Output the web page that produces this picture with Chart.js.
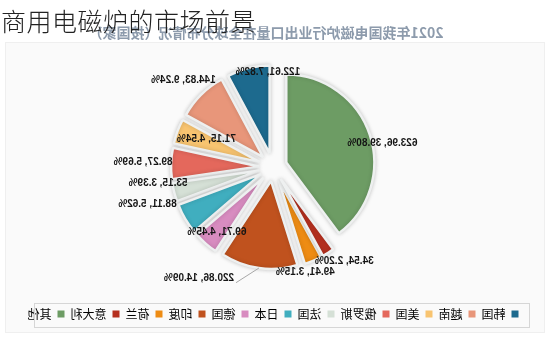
<!DOCTYPE html>
<html>
<head>
<meta charset="utf-8">
<script src="https://cdn.jsdelivr.net/npm/chart.js@4.4.1/dist/chart.umd.min.js"></script>
<style>
  html, body { margin: 0; padding: 0; background: #fff; }
  #wrap { position: absolute; left: 0; top: 0; width: 558px; height: 342px; transform: scaleX(-1); }
  #pageTitle {
    position: absolute; left: 1px; top: 8px; margin: 0;
    font-family: "Noto Sans CJK SC", sans-serif; font-weight: 300;
    font-size: 25px; line-height: 1; color: #222; letter-spacing: 0.5px;
  }
</style>
</head>
<body>
<div id="wrap"><canvas id="myChart01" width="558" height="342"></canvas></div>
<h1 id="pageTitle">商用电磁炉的市场前景</h1>
<script>
// 数据
var chartTitle = '2021年我国电磁炉行业出口量在全球分布情况（按国家）';
var categories = ['韩国', '越南', '美国', '俄罗斯', '法国', '日本', '德国', '印度', '荷兰', '意大利', '其他'];
var exportVolume = [122.61, 144.83, 71.15, 89.27, 53.15, 88.11, 69.71, 220.86, 49.41, 34.54, 623.96];
var sharePct = [7.82, 9.24, 4.54, 5.69, 3.39, 5.62, 4.45, 14.09, 3.15, 2.20, 39.80];

var sliceColors = ['#1d6a8e', '#e8967a', '#f8c470', '#e4685c', '#d5e0d6', '#40aebf',
                   '#d88cc0', '#c0521e', '#ee8c14', '#b5301f', '#6d9c64'];

// 标签位置（距圆心像素, 相对扇区中线的角度偏移）
var labelDist = [95, 125, 72, 130, 116, 131, 86, 134, 110, 118, 112];
var labelTurn = [-11, 1, -2, 0, -6.5, -14, 0.6, -25.6, -6, 4.4, -6];
var leaderIndex = 7;
var explodeDist = 14;

// 背景面板
var panelPlugin = {
    id: 'panel',
    beforeDraw: function (chart) {
        var ctx = chart.ctx;
        ctx.save();
        ctx.fillStyle = '#fafafa';
        ctx.fillRect(13, 42, 540, 291);
        ctx.strokeStyle = '#efefef';
        ctx.strokeRect(13.5, 42.5, 539, 290);
        ctx.restore();
    }
};

// 扇区分离 + 阴影
var explodePlugin = {
    id: 'explode',
    beforeDatasetsDraw: function (chart) {
        var ctx = chart.ctx;
        chart.getDatasetMeta(0).data.forEach(function (arc) {
            if (arc._exploded) return;
            var baseDraw = arc.draw;
            arc.draw = function (c) {
                var m = (this.startAngle + this.endAngle) / 2;
                c.save();
                c.translate(Math.cos(m) * explodeDist, Math.sin(m) * explodeDist);
                baseDraw.call(this, c);
                c.restore();
            };
            arc._exploded = true;
        });
        ctx.save();
        ctx.shadowColor = 'rgba(0,0,0,0.18)';
        ctx.shadowBlur = 4;
    },
    afterDatasetsDraw: function (chart) {
        chart.ctx.restore();
    }
};

// 标题、数据标签、图例边框
var textPlugin = {
    id: 'texts',
    afterDraw: function (chart) {
        var ctx = chart.ctx;
        ctx.save();

        ctx.font = 'bold 14px "Noto Sans CJK SC", sans-serif';
        ctx.fillStyle = '#8d9bac';
        ctx.textAlign = 'center';
        ctx.textBaseline = 'middle';
        ctx.fillText(chartTitle, 292, 33);

        var arcs = chart.getDatasetMeta(0).data;
        ctx.font = 'bold 10px "Liberation Sans", Arial, sans-serif';
        arcs.forEach(function (arc, i) {
            var p = arc.getProps(['x', 'y', 'startAngle', 'endAngle', 'outerRadius'], true);
            var a = (p.startAngle + p.endAngle) / 2 + labelTurn[i] * Math.PI / 180;
            var lx = p.x + Math.cos(a) * labelDist[i];
            var ly = p.y + Math.sin(a) * labelDist[i];
            var txt = exportVolume[i].toFixed(2) + ', ' + sharePct[i].toFixed(2) + '%';
            var w = ctx.measureText(txt).width;
            if (i === leaderIndex) {
                var m = (p.startAngle + p.endAngle) / 2;
                var r = p.outerRadius + explodeDist;
                ctx.strokeStyle = '#a8a8a8';
                ctx.lineWidth = 1;
                ctx.beginPath();
                ctx.moveTo(p.x + Math.cos(m) * r, p.y + Math.sin(m) * r);
                ctx.lineTo(lx - w / 2 - 2, ly + 4);
                ctx.stroke();
            }
            ctx.fillStyle = '#151515';
            ctx.fillText(txt, lx, ly);
        });

        var lg = chart.legend;
        if (lg && lg.legendHitBoxes.length) {
            var boxes = lg.legendHitBoxes;
            var left = boxes[0].left - 11;
            var last = boxes[boxes.length - 1];
            var right = last.left + last.width - 7;
            var midY = boxes[0].top + boxes[0].height / 2;
            ctx.strokeStyle = '#d6d6d6';
            ctx.lineWidth = 1;
            ctx.strokeRect(Math.round(left) + 0.5, Math.round(midY - 11) + 0.5, Math.round(right - left), 24);
        }
        ctx.restore();
    }
};

var ctx01 = document.getElementById('myChart01');
var chart01 = new Chart(ctx01, {
    type: 'pie',
    data: {
        labels: categories,
        datasets: [{
            data: exportVolume,
            backgroundColor: sliceColors,
            borderColor: '#eef0f0',
            borderWidth: 2.5,
            offset: 0,
            hoverOffset: 0
        }]
    },
    options: {
        responsive: false,
        animation: false,
        radius: 88,
        layout: { padding: { top: 32, bottom: 12, left: 12, right: 0 } },
        plugins: {
            title: { display: false },
            tooltip: { enabled: false },
            legend: {
                position: 'bottom',
                labels: {
                    boxWidth: 7,
                    boxHeight: 7,
                    padding: 6,
                    color: '#555',
                    font: { family: '"Noto Sans CJK SC", sans-serif', size: 12 },
                    generateLabels: function (chart) {
                        return chart.data.labels.map(function (name, i) {
                            return {
                                text: name,
                                fillStyle: sliceColors[i],
                                strokeStyle: sliceColors[i],
                                lineWidth: 0,
                                hidden: false,
                                index: i
                            };
                        });
                    }
                }
            }
        }
    },
    plugins: [panelPlugin, explodePlugin, textPlugin]
});
</script>
</body>
</html>
